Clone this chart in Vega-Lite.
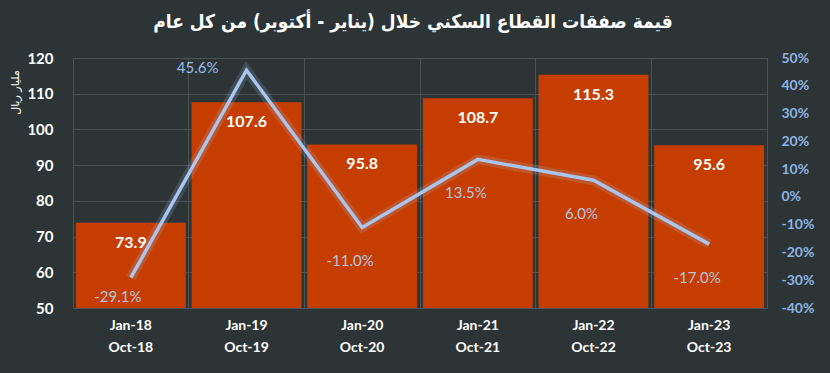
{
  "$schema": "https://vega.github.io/schema/vega-lite/v6.json",
  "autosize": {"type": "none"},
  "width": 694,
  "height": 250,
  "padding": {"left": 73, "top": 58, "right": 63, "bottom": 65},
  "background": "#2d3436",
  "title": {
    "text": "قيمة صفقات القطاع السكني خلال (يناير - أكتوبر) من كل عام",
    "font": "DejaVu Sans Condensed, DejaVu Sans",
    "fontSize": 19,
    "fontWeight": "bold",
    "color": "#ffffff",
    "anchor": "middle",
    "offset": 18,
    "dx": -7
  },
  "config": {
    "view": {"stroke": "#4b5357", "strokeWidth": 1},
    "locale": {"number": {"decimal": ".", "thousands": ",", "grouping": [3], "currency": ["", "%"], "minus": "-"}},
    "font": "Lato"
  },
  "data": {
    "values": [
      {"period": "Jan-18|Oct-18", "value": 73.9, "growth": -29.1},
      {"period": "Jan-19|Oct-19", "value": 107.6, "growth": 45.6},
      {"period": "Jan-20|Oct-20", "value": 95.8, "growth": -11.0},
      {"period": "Jan-21|Oct-21", "value": 108.7, "growth": 13.5},
      {"period": "Jan-22|Oct-22", "value": 115.3, "growth": 6.0},
      {"period": "Jan-23|Oct-23", "value": 95.6, "growth": -17.0}
    ]
  },
  "encoding": {
    "x": {
      "field": "period",
      "type": "nominal",
      "sort": null,
      "scale": {"paddingInner": 0.05, "paddingOuter": 0.025},
      "axis": {
        "title": null,
        "labelAngle": 0,
        "labelExpr": "split(datum.label, '|')",
        "labelFont": "Lato",
        "labelFontSize": 14,
        "labelFontWeight": "bold",
        "labelColor": "#ffffff",
        "labelLineHeight": 22,
        "labelPadding": 10,
        "domain": false,
        "ticks": false,
        "grid": true,
        "gridColor": "#4b5357",
        "gridWidth": 1,
        "bandPosition": -0.026
      }
    }
  },
  "layer": [
    {
      "encoding": {
        "y": {
          "field": "value",
          "type": "quantitative",
          "scale": {"domain": [50, 120], "zero": false, "nice": false},
          "axis": {
            "title": "مليار ريال",
            "titleFont": "DejaVu Sans",
            "titleFontSize": 11,
            "titleFontWeight": "normal",
            "titleColor": "#ffffff",
            "titleX": -58,
            "titleY": 34,
            "titleAngle": 270,
            "titleAlign": "center",
            "titleBaseline": "middle",
            "values": [50, 60, 70, 80, 90, 100, 110, 120],
            "labelOverlap": false,
            "labelFont": "Lato",
            "labelFontSize": 15,
            "labelFontWeight": "bold",
            "labelColor": "#ffffff",
            "labelPadding": 20,
            "domain": false,
            "ticks": false,
            "grid": true,
            "gridColor": "#4b5357",
            "gridWidth": 1
          }
        }
      },
      "layer": [
        {
          "mark": {"type": "bar", "color": "#c63d00"},
          "encoding": {"y2": {"datum": 50}}
        },
        {
          "mark": {"type": "text", "color": "#ffffff", "font": "Lato", "fontSize": 16, "fontWeight": "bold", "baseline": "middle", "dy": 20},
          "encoding": {
            "text": {"field": "value", "type": "quantitative", "format": ".1f"}
          }
        }
      ]
    },
    {
      "encoding": {
        "y": {
          "field": "growth",
          "type": "quantitative",
          "scale": {"domain": [-40, 50], "nice": false},
          "axis": {
            "orient": "right",
            "title": null,
            "values": [-40, -30, -20, -10, 0, 10, 20, 30, 40, 50],
            "labelOverlap": false,
            "format": "$d",
            "labelFont": "Lato",
            "labelFontSize": 14,
            "labelFontWeight": "bold",
            "labelColor": "#8db3e2",
            "labelPadding": 14,
            "domain": false,
            "ticks": false,
            "grid": false
          }
        }
      },
      "layer": [
        {
          "mark": {"type": "line", "color": "#a9c6f0", "strokeWidth": 10, "opacity": 0.18},
          "encoding": {}
        },
        {
          "mark": {"type": "line", "color": "#a9c6f0", "strokeWidth": 3.5},
          "encoding": {}
        },
        {
          "transform": [{"filter": "datum.growth > 40"}],
          "mark": {"type": "text", "color": "#9bbcec", "font": "Lato", "fontSize": 15, "align": "right", "baseline": "middle", "dx": -28, "dy": -2},
          "encoding": {
            "text": {"field": "growth", "type": "quantitative", "format": "$.1f"}
          }
        },
        {
          "transform": [{"filter": "datum.growth < -25"}],
          "mark": {"type": "text", "color": "#b4c5e4", "font": "Lato", "fontSize": 15, "align": "center", "baseline": "middle", "dx": -13, "dy": 19},
          "encoding": {
            "text": {"field": "growth", "type": "quantitative", "format": "$.1f"}
          }
        },
        {
          "transform": [{"filter": "datum.growth >= -25 && datum.growth <= 40"}],
          "mark": {"type": "text", "color": "#b4c5e4", "font": "Lato", "fontSize": 15, "align": "center", "baseline": "middle", "dx": -12, "dy": 34},
          "encoding": {
            "text": {"field": "growth", "type": "quantitative", "format": "$.1f"}
          }
        }
      ]
    }
  ],
  "resolve": {"scale": {"y": "independent"}}
}
